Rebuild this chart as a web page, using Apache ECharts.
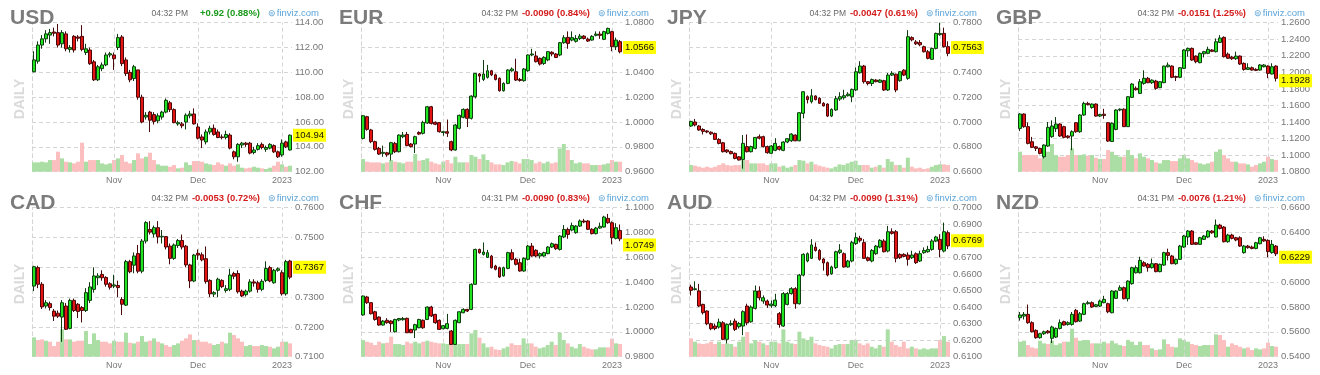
<!DOCTYPE html>
<html><head><meta charset="utf-8">
<script src="https://cdn.jsdelivr.net/npm/echarts@6/dist/echarts.min.js"></script>
<style>html,body{margin:0;padding:0;background:#fff}#c{width:1320px;height:375px}</style>
</head><body><div id="c"></div>
<script>
const dates = ['2022-10-04','2022-10-05','2022-10-06','2022-10-07','2022-10-10','2022-10-11','2022-10-12','2022-10-13','2022-10-14','2022-10-17','2022-10-18','2022-10-19','2022-10-20','2022-10-21','2022-10-24','2022-10-25','2022-10-26','2022-10-27','2022-10-28','2022-10-31',
'2022-11-01','2022-11-02','2022-11-03','2022-11-04','2022-11-07','2022-11-08','2022-11-09','2022-11-10','2022-11-11','2022-11-14','2022-11-15','2022-11-16','2022-11-17','2022-11-18','2022-11-21','2022-11-22','2022-11-23','2022-11-25','2022-11-28','2022-11-29','2022-11-30',
'2022-12-01','2022-12-02','2022-12-05','2022-12-06','2022-12-07','2022-12-08','2022-12-09','2022-12-12','2022-12-13','2022-12-14','2022-12-15','2022-12-16','2022-12-19','2022-12-20','2022-12-21','2022-12-22','2022-12-23','2022-12-27','2022-12-28','2022-12-29','2022-12-30',
'2023-01-03','2023-01-04','2023-01-05'];
const monthNames = {'01':'2023','11':'Nov','12':'Dec'};

// [open, close, low, high]
const usdOHLC = [
[110.05,111.0,110.0,111.7],[110.9,112.2,110.7,112.5],[112.2,112.7,111.9,113.0],[112.7,113.1,112.4,113.4],[113.0,113.2,112.3,113.5],
[113.25,113.15,112.9,113.6],[113.2,112.2,112.0,113.9],[112.3,113.2,112.0,113.4],[113.1,111.9,111.7,113.3],[111.85,112.0,111.6,112.2],
[112.9,111.8,111.6,113.0],[112.85,112.75,112.5,113.0],[112.9,111.85,111.7,113.8],[111.6,111.9,111.4,112.3],[111.8,110.7,110.6,112.0],
[110.85,109.4,109.3,111.0],[109.4,110.45,109.3,110.6],[110.3,110.6,110.1,110.8],[110.6,111.4,110.5,111.6],[111.4,111.5,111.2,111.65],
[111.4,111.1,110.2,111.6],[112.0,112.8,111.8,113.1],[112.85,110.7,110.5,113.0],[111.0,109.9,109.7,111.2],[110.0,109.4,109.2,110.2],
[109.5,110.45,109.3,110.6],[110.2,108.0,107.8,110.2],[108.0,106.0,105.9,108.2],[106.4,106.55,106.2,106.8],[106.8,106.15,105.2,106.9],
[106.6,106.05,105.8,106.8],[106.1,106.5,105.9,106.7],[106.4,106.8,106.2,106.9],[106.8,107.75,106.7,107.9],[107.55,107.0,106.8,107.7],
[107.0,105.95,105.9,107.1],[105.85,105.95,105.7,106.1],[105.85,105.7,105.5,106.0],[106.0,106.55,105.4,106.7],[106.5,106.65,106.3,106.9],
[106.65,105.85,105.8,107.1],[105.6,104.7,104.6,105.9],[104.8,104.55,103.9,105.0],[104.4,105.2,104.2,105.4],[105.2,105.5,105.0,105.7],
[105.5,105.0,104.9,105.8],[105.2,104.75,104.7,105.4],[104.8,104.75,104.6,105.0],[104.76,105.0,104.6,105.3],[104.95,103.9,103.8,105.1],
[103.6,103.2,103.0,103.7],[103.2,104.2,102.8,104.3],[104.15,104.3,103.9,104.4],[104.3,104.2,104.0,104.4],[104.3,103.5,103.4,104.4],
[103.55,103.75,103.4,104.0],[103.8,104.1,103.7,104.3],[104.2,103.95,103.8,104.35],[103.8,103.95,103.6,104.1],[103.9,104.2,103.8,104.3],
[104.1,103.6,103.5,104.2],[103.6,103.2,103.1,103.7],[103.35,104.3,103.2,104.6],[104.4,104.0,103.9,104.5],[103.75,104.94,103.7,105.0]];
const usdVol = [28,28,30,28,35,35,60,40,30,28,25,30,87,30,35,35,35,25,22,25,35,40,50,30,25,35,55,40,45,57,35,22,18,18,15,20,10,12,28,20,32,32,30,25,22,20,28,22,18,25,18,22,12,10,12,15,12,10,8,12,18,30,22,15,18];

const eurOHLC = [
[.9868,1.0051,.9860,1.0055],[1.0043,.9941,.9930,1.0050],[.9936,.9842,.9830,.9945],[.9842,.9780,.9770,.9850],[.9788,.9742,.9735,.9800],
[.9748,.9756,.9720,.9810],[.9752,.9736,.9720,.9760],[.9742,.9834,.9690,.9840],[.9828,.9761,.9750,.9840],[.9761,.9895,.9755,.9900],
[.9882,.9895,.9870,.9920],[.9900,.9810,.9805,.9920],[.9823,.9802,.9795,.9830],[.9823,.9882,.9750,.9890],[.9916,.9903,.9895,.9925],
[.9909,.9997,.9900,1.0010],[.9992,1.0123,.9985,1.0130],[1.0123,.9989,.9980,1.0130],[.9998,.9982,.9975,1.0005],[.9995,.9922,.9915,1.0000],
[.9915,.9922,.9890,.9930],[.9922,.9910,.9880,1.0020],[.9842,.9775,.9765,.9850],[.9775,.9976,.9770,.9985],[.9949,1.0054,.9940,1.0060],
[1.0038,1.0102,1.0030,1.0110],[1.0102,1.0030,.9960,1.0110],[1.0030,1.0209,1.0020,1.0215],[1.0204,1.0392,1.0190,1.0395],[1.0387,1.0370,1.0320,1.0395],
[1.0343,1.0387,1.0330,1.0500],[1.0360,1.0413,1.0350,1.0460],[1.0413,1.0380,1.0370,1.0420],[1.0380,1.0343,1.0335,1.0390],[1.0352,1.0252,1.0245,1.0360],
[1.0252,1.0311,1.0245,1.0320],[1.0311,1.0419,1.0305,1.0425],[1.0413,1.0427,1.0405,1.0440],[1.0405,1.0338,1.0330,1.0510],[1.0343,1.0335,1.0325,1.0355],
[1.0333,1.0427,1.0325,1.0435],[1.0413,1.0540,1.0405,1.0545],[1.0540,1.0548,1.0530,1.0590],[1.0532,1.0486,1.0480,1.0570],[1.0513,1.0467,1.0455,1.0520],
[1.0472,1.0521,1.0460,1.0530],[1.0500,1.0567,1.0490,1.0570],[1.0562,1.0548,1.0530,1.0570],[1.0548,1.0520,1.0515,1.0555],[1.0540,1.0639,1.0530,1.0645],
[1.0639,1.0679,1.0630,1.0700],[1.0682,1.0633,1.0590,1.0730],[1.0660,1.0680,1.0650,1.0730],[1.0650,1.0673,1.0640,1.0700],[1.0673,1.0692,1.0660,1.0710],
[1.0692,1.0673,1.0665,1.0700],[1.0668,1.0652,1.0645,1.0680],[1.0660,1.0690,1.0655,1.0700],[1.0698,1.0708,1.0690,1.0730],[1.0708,1.0698,1.0670,1.0730],
[1.0666,1.0728,1.0660,1.0735],[1.0714,1.0754,1.0705,1.0760],[1.0728,1.0607,1.0570,1.0735],[1.0607,1.0660,1.0580,1.0680],[1.0647,1.0566,1.0553,1.0660]];
const eurVol = [38,30,28,28,28,25,28,35,30,28,25,30,30,53,33,35,40,30,25,22,30,35,25,45,28,28,28,50,45,38,52,35,28,22,22,20,28,32,30,25,38,38,35,25,30,25,30,25,28,70,83,65,35,25,28,25,25,20,20,20,22,25,35,30,30];

const jpyOHLC = [
[.6968,.7005,.6960,.7010],[.7000,.6976,.6965,.7025],[.6968,.6936,.6930,.6975],[.6940,.6925,.6900,.6950],[.6928,.6920,.6910,.6935],
[.6918,.6905,.6895,.6925],[.6908,.6860,.6855,.6915],[.6860,.6828,.6820,.6870],[.6833,.6761,.6755,.6840],[.6775,.6760,.6750,.6780],
[.6762,.6745,.6740,.6770],[.6748,.6707,.6700,.6755],[.6720,.6694,.6690,.6725],[.6699,.6828,.6625,.6895],[.6802,.6761,.6755,.6900],
[.6761,.6802,.6755,.6810],[.6788,.6876,.6780,.6880],[.6882,.6870,.6860,.6900],[.6882,.6802,.6795,.6890],[.6802,.6753,.6745,.6810],
[.6748,.6807,.6745,.6815],[.6772,.6828,.6765,.6870],[.6802,.6780,.6770,.6810],[.6772,.6839,.6765,.6845],[.6839,.6866,.6830,.6870],
[.6849,.6903,.6840,.6910],[.6895,.6849,.6845,.6900],[.6849,.7075,.6845,.7080],[.7070,.7244,.7030,.7250],[.7204,.7180,.7150,.7215],
[.7164,.7212,.7150,.7265],[.7210,.7180,.7175,.7215],[.7191,.7151,.7145,.7200],[.7151,.7130,.7125,.7160],[.7145,.7048,.7040,.7150],
[.7048,.7102,.7040,.7110],[.7097,.7188,.7090,.7210],[.7185,.7204,.7170,.7240],[.7196,.7212,.7180,.7260],[.7212,.7225,.7205,.7240],
[.7204,.7263,.7160,.7270],[.7258,.7405,.7250,.7440],[.7397,.7451,.7390,.7490],[.7451,.7325,.7310,.7460],[.7325,.7310,.7295,.7330],
[.7310,.7342,.7290,.7350],[.7338,.7325,.7320,.7345],[.7320,.7338,.7315,.7345],[.7333,.7258,.7250,.7340],[.7258,.7378,.7250,.7395],
[.7378,.7392,.7370,.7410],[.7385,.7258,.7240,.7390],[.7333,.7405,.7325,.7410],[.7418,.7378,.7370,.7425],[.7352,.7687,.7340,.7740],
[.7680,.7662,.7650,.7690],[.7645,.7630,.7620,.7660],[.7640,.7622,.7610,.7660],[.7607,.7566,.7560,.7615],[.7566,.7513,.7505,.7580],
[.7505,.7593,.7500,.7600],[.7593,.7714,.7585,.7720],[.7704,.7714,.7695,.7800],[.7714,.7607,.7600,.7760],[.7607,.7553,.7530,.7650]];
const jpyVol = [20,18,15,12,15,12,15,20,25,20,18,20,20,35,35,25,25,25,25,20,25,25,15,18,12,15,20,35,33,25,30,22,18,15,12,10,15,22,20,25,30,33,20,20,20,12,15,20,12,38,30,20,20,12,42,15,10,12,8,10,15,20,22,22,20];

const gbpOHLC = [
[1.1323,1.1497,1.1290,1.1505],[1.1497,1.1344,1.1330,1.1505],[1.1344,1.1142,1.1130,1.1395],[1.1162,1.1094,1.1085,1.1220],[1.1100,1.1082,1.1050,1.1110],
[1.1082,1.1021,1.1010,1.1090],[1.0981,1.1122,1.0960,1.1130],[1.1110,1.1336,1.1100,1.1400],[1.1223,1.1352,1.1210,1.1420],[1.1320,1.1376,1.1280,1.1460],
[1.1376,1.1231,1.1220,1.1385],[1.1344,1.1215,1.1205,1.1355],[1.1231,1.1215,1.1200,1.1240],[1.1231,1.1283,1.1060,1.1300],[1.1392,1.1283,1.1270,1.1400],
[1.1283,1.1485,1.1270,1.1495],[1.1485,1.1625,1.1475,1.1645],[1.1625,1.1610,1.1600,1.1645],[1.1575,1.1617,1.1560,1.1625],[1.1617,1.1472,1.1465,1.1625],
[1.1472,1.1490,1.1460,1.1500],[1.1495,1.1480,1.1440,1.1560],[1.1392,1.1170,1.1160,1.1400],[1.1165,1.1385,1.1160,1.1395],[1.1311,1.1545,1.1300,1.1555],
[1.1545,1.1555,1.1530,1.1565],[1.1555,1.1344,1.1340,1.1565],[1.1344,1.1706,1.1340,1.1710],[1.1698,1.1859,1.1690,1.1870],[1.1808,1.1790,1.1780,1.1830],
[1.1746,1.1887,1.1740,1.1920],[1.1867,1.1928,1.1850,1.2025],[1.1928,1.1875,1.1870,1.1945],[1.1875,1.1906,1.1860,1.1915],[1.1895,1.1807,1.1790,1.1910],
[1.1815,1.1887,1.1810,1.1895],[1.1875,1.2076,1.1870,1.2080],[1.2068,1.2088,1.2060,1.2120],[1.2076,1.1940,1.1930,1.2085],[1.1950,1.1940,1.1895,1.1960],
[1.1940,1.2056,1.1930,1.2065],[1.2048,1.2270,1.2040,1.2280],[1.2260,1.2290,1.2190,1.2300],[1.2290,1.2149,1.2140,1.2300],[1.2197,1.2129,1.2110,1.2205],
[1.2117,1.2230,1.2110,1.2240],[1.2225,1.2250,1.2180,1.2260],[1.2230,1.2278,1.2220,1.2310],[1.2270,1.2254,1.2245,1.2280],[1.2250,1.2370,1.2240,1.2410],
[1.2362,1.2415,1.2355,1.2450],[1.2423,1.2189,1.2180,1.2435],[1.2220,1.2170,1.2165,1.2240],[1.2185,1.2165,1.2150,1.2200],[1.2165,1.2197,1.2150,1.2250],
[1.2197,1.2101,1.2090,1.2205],[1.2109,1.2036,1.2020,1.2120],[1.2036,1.2056,1.2030,1.2110],[1.2056,1.2028,1.2020,1.2070],[1.2036,1.2024,1.2015,1.2050],
[1.2028,1.2089,1.2020,1.2100],[1.2068,1.2089,1.2060,1.2100],[1.2076,1.1988,1.1930,1.2085],[1.1980,1.2068,1.1975,1.2110],[1.2076,1.1928,1.1890,1.2085]];
const gbpVol = [60,50,50,50,50,40,45,60,83,50,45,45,50,70,50,50,52,48,50,42,38,38,65,60,50,45,45,65,50,40,55,45,40,35,28,25,35,35,32,32,40,50,40,35,28,25,22,25,30,60,67,50,40,30,30,25,25,22,15,20,25,30,45,38,35];

const cadOHLC = [
[.7337,.7402,.7320,.7405],[.7399,.7343,.7330,.7405],[.7343,.7267,.7260,.7350],[.7270,.7281,.7262,.7290],[.7278,.7265,.7255,.7285],
[.7253,.7236,.7220,.7260],[.7246,.7236,.7230,.7255],[.7233,.7281,.7150,.7290],[.7270,.7192,.7190,.7280],[.7195,.7289,.7192,.7295],
[.7289,.7255,.7250,.7295],[.7276,.7252,.7230,.7280],[.7265,.7255,.7215,.7270],[.7255,.7315,.7250,.7330],[.7289,.7334,.7280,.7350],
[.7326,.7371,.7315,.7400],[.7365,.7371,.7340,.7380],[.7376,.7365,.7355,.7390],[.7366,.7343,.7335,.7370],[.7345,.7333,.7325,.7350],
[.7337,.7341,.7330,.7375],[.7339,.7332,.7300,.7355],[.7292,.7276,.7240,.7300],[.7273,.7419,.7270,.7425],[.7419,.7385,.7380,.7425],
[.7407,.7438,.7380,.7450],[.7446,.7387,.7380,.7475],[.7387,.7488,.7380,.7495],[.7488,.7550,.7480,.7555],[.7527,.7518,.7510,.7555],
[.7512,.7533,.7500,.7540],[.7533,.7502,.7480,.7555],[.7502,.7504,.7480,.7525],[.7503,.7468,.7460,.7505],[.7471,.7430,.7410,.7480],
[.7430,.7475,.7425,.7480],[.7473,.7490,.7465,.7495],[.7490,.7468,.7460,.7510],[.7471,.7408,.7400,.7475],[.7408,.7354,.7330,.7412],
[.7354,.7441,.7350,.7445],[.7447,.7441,.7425,.7460],[.7442,.7425,.7420,.7450],[.7429,.7352,.7345,.7470],[.7356,.7311,.7300,.7360],
[.7310,.7315,.7300,.7320],[.7323,.7360,.7300,.7365],[.7356,.7335,.7330,.7360],[.7322,.7328,.7315,.7340],[.7326,.7374,.7320,.7395],
[.7379,.7370,.7360,.7385],[.7379,.7318,.7312,.7390],[.7320,.7304,.7300,.7325],[.7308,.7320,.7302,.7325],[.7320,.7351,.7315,.7360],
[.7351,.7347,.7335,.7360],[.7348,.7326,.7315,.7355],[.7326,.7353,.7320,.7360],[.7356,.7396,.7350,.7420],[.7399,.7354,.7350,.7405],
[.7348,.7390,.7345,.7395],[.7390,.7395,.7385,.7400],[.7382,.7311,.7305,.7390],[.7311,.7419,.7305,.7425],[.7421,.7367,.7360,.7425]];
const cadVol = [58,50,52,48,45,32,45,82,52,52,45,48,48,77,38,70,50,45,45,40,48,45,45,72,42,40,45,62,45,48,55,45,40,35,30,35,40,48,55,67,50,50,45,45,40,35,38,45,40,72,65,55,45,32,35,32,32,35,32,30,25,30,45,45,40];

const chfOHLC = [
[1.0136,1.0289,1.0130,1.0292],[1.0281,1.0235,1.0225,1.0290],[1.0235,1.0146,1.0140,1.0240],[1.0162,1.0100,1.0090,1.0170],[1.0119,1.0055,1.0050,1.0125],
[1.0055,1.0087,1.0050,1.0095],[1.0093,1.0074,1.0065,1.0110],[1.0087,1.0066,1.0000,1.0095],[1.0001,1.0100,.9995,1.0105],[1.0095,1.0108,1.0085,1.0112],
[1.0098,1.0108,1.0090,1.0120],[1.0109,.9993,.9990,1.0115],[1.0020,.9993,.9990,1.0025],[1.0015,1.0058,.9950,1.0065],[1.0033,1.0100,1.0030,1.0105],
[1.0093,1.0033,1.0025,1.0100],[1.0100,1.0200,1.0095,1.0205],[1.0200,1.0128,1.0120,1.0210],[1.0141,1.0074,1.0065,1.0145],[1.0093,1.0020,1.0015,1.0100],
[1.0025,1.0050,1.0020,1.0055],[1.0028,1.0066,1.0020,1.0145],[1.0007,.9899,.9895,1.0015],[.9899,1.0093,.9895,1.0100],[1.0074,1.0162,1.0070,1.0165],
[1.0154,1.0181,1.0150,1.0190],[1.0181,1.0168,1.0160,1.0185],[1.0181,1.0383,1.0175,1.0390],[1.0383,1.0664,1.0380,1.0670],[1.0664,1.0637,1.0630,1.0670],
[1.0624,1.0643,1.0615,1.0720],[1.0600,1.0638,1.0595,1.0660],[1.0610,1.0517,1.0510,1.0620],[1.0530,1.0504,1.0495,1.0540],[1.0517,1.0442,1.0435,1.0525],
[1.0450,1.0517,1.0445,1.0525],[1.0511,1.0638,1.0505,1.0645],[1.0638,1.0584,1.0575,1.0665],[1.0584,1.0544,1.0535,1.0595],[1.0557,1.0490,1.0485,1.0590],
[1.0490,1.0592,1.0485,1.0600],[1.0584,1.0691,1.0575,1.0700],[1.0691,1.0611,1.0605,1.0715],[1.0657,1.0611,1.0600,1.0665],[1.0611,1.0630,1.0590,1.0640],
[1.0611,1.0638,1.0605,1.0645],[1.0630,1.0683,1.0625,1.0690],[1.0683,1.0710,1.0675,1.0720],[1.0705,1.0670,1.0660,1.0710],[1.0664,1.0772,1.0655,1.0780],
[1.0764,1.0825,1.0755,1.0860],[1.0825,1.0785,1.0750,1.0840],[1.0820,1.0856,1.0810,1.0880],[1.0799,1.0852,1.0790,1.0860],[1.0852,1.0893,1.0845,1.0905],
[1.0893,1.0885,1.0875,1.0910],[1.0893,1.0826,1.0820,1.0900],[1.0826,1.0791,1.0785,1.0835],[1.0791,1.0836,1.0785,1.0845],[1.0836,1.0850,1.0830,1.0880],
[1.0844,1.0925,1.0840,1.0935],[1.0914,1.0879,1.0870,1.0950],[1.0879,1.0758,1.0705,1.0890],[1.0753,1.0839,1.0745,1.0875],[1.0817,1.0749,1.0730,1.0865]];
const chfVol = [50,45,42,35,45,40,42,60,38,38,35,45,40,45,40,45,48,45,42,40,40,38,40,38,38,38,38,70,80,57,40,28,30,22,20,25,30,40,35,35,55,40,40,30,25,28,35,45,35,72,50,40,30,25,38,30,25,22,22,28,28,28,54,40,38];

const audOHLC = [
[.6521,.6501,.6470,.6535],[.6506,.6510,.6500,.6555],[.6497,.6406,.6400,.6540],[.6416,.6366,.6355,.6420],[.6376,.6299,.6290,.6380],
[.6299,.6269,.6260,.6305],[.6285,.6270,.6260,.6300],[.6279,.6309,.6270,.6330],[.6305,.6205,.6200,.6315],[.6205,.6295,.6180,.6300],
[.6293,.6301,.6285,.6320],[.6315,.6265,.6255,.6330],[.6281,.6301,.6270,.6310],[.6285,.6372,.6230,.6380],[.6406,.6305,.6290,.6420],
[.6311,.6400,.6305,.6410],[.6392,.6497,.6385,.6530],[.6497,.6456,.6440,.6525],[.6436,.6456,.6420,.6470],[.6436,.6412,.6395,.6445],
[.6408,.6418,.6395,.6440],[.6408,.6442,.6400,.6480],[.6360,.6295,.6275,.6370],[.6285,.6481,.6280,.6490],[.6416,.6481,.6410,.6490],
[.6481,.6511,.6475,.6520],[.6511,.6420,.6390,.6520],[.6420,.6593,.6415,.6600],[.6593,.6718,.6585,.6725],[.6678,.6722,.6670,.6730],
[.6694,.6775,.6690,.6810],[.6762,.6742,.6735,.6790],[.6742,.6688,.6680,.6750],[.6690,.6666,.6620,.6695],[.6668,.6593,.6585,.6675],
[.6601,.6642,.6595,.6650],[.6638,.6734,.6630,.6740],[.6730,.6744,.6720,.6780],[.6722,.6642,.6638,.6730],[.6642,.6678,.6638,.6685],
[.6678,.6789,.6670,.6800],[.6783,.6819,.6775,.6850],[.6815,.6803,.6790,.6830],[.6789,.6694,.6690,.6810],[.6698,.6682,.6675,.6705],
[.6678,.6742,.6670,.6750],[.6722,.6768,.6715,.6775],[.6762,.6803,.6755,.6810],[.6799,.6734,.6730,.6810],[.6738,.6855,.6730,.6890],
[.6855,.6845,.6838,.6875],[.6855,.6694,.6670,.6865],[.6718,.6698,.6690,.6725],[.6718,.6706,.6700,.6725],[.6714,.6688,.6650,.6730],
[.6698,.6714,.6690,.6740],[.6722,.6668,.6660,.6730],[.6678,.6722,.6672,.6740],[.6728,.6742,.6722,.6760],[.6734,.6748,.6728,.6770],
[.6748,.6799,.6740,.6810],[.6799,.6823,.6792,.6830],[.6809,.6748,.6700,.6840],[.6738,.6855,.6730,.6910],[.6849,.6769,.6750,.6862]];
const audVol = [55,45,40,38,40,45,38,45,38,40,38,30,45,60,74,40,50,45,40,35,45,45,40,82,45,40,38,75,55,50,60,40,35,32,30,25,35,38,38,38,50,50,40,35,40,30,25,35,30,82,45,35,30,45,25,30,25,22,25,22,25,25,50,62,45];

const nzdOHLC = [
[.5714,.5736,.5690,.5760],[.5727,.5741,.5700,.5760],[.5741,.5674,.5665,.5820],[.5674,.5601,.5595,.5685],[.5612,.5553,.5545,.5620],
[.5553,.5585,.5545,.5590],[.5585,.5601,.5575,.5610],[.5606,.5593,.5585,.5615],[.5548,.5639,.5510,.5650],[.5558,.5628,.5550,.5635],
[.5628,.5674,.5620,.5700],[.5682,.5655,.5650,.5690],[.5660,.5674,.5650,.5685],[.5660,.5741,.5650,.5760],[.5773,.5682,.5675,.5785],
[.5687,.5746,.5680,.5760],[.5741,.5827,.5735,.5835],[.5827,.5835,.5820,.5850],[.5835,.5800,.5795,.5845],[.5805,.5818,.5800,.5825],
[.5808,.5848,.5800,.5860],[.5835,.5862,.5830,.5890],[.5827,.5762,.5750,.5835],[.5754,.5929,.5750,.5935],[.5870,.5929,.5865,.5935],
[.5935,.5956,.5930,.5975],[.5956,.5867,.5862,.5965],[.5867,.6009,.5845,.6015],[.5988,.6117,.5980,.6125],[.6076,.6117,.6070,.6135],
[.6076,.6176,.6070,.6205],[.6157,.6130,.6125,.6170],[.6144,.6117,.6085,.6155],[.6117,.6149,.6110,.6190],[.6149,.6085,.6080,.6155],
[.6085,.6144,.6080,.6150],[.6138,.6238,.6132,.6245],[.6238,.6216,.6175,.6270],[.6211,.6149,.6145,.6220],[.6149,.6184,.6140,.6190],
[.6184,.6291,.6180,.6300],[.6283,.6372,.6276,.6380],[.6364,.6412,.6300,.6420],[.6412,.6305,.6300,.6420],[.6318,.6305,.6300,.6325],
[.6305,.6358,.6300,.6365],[.6345,.6372,.6340,.6380],[.6364,.6412,.6355,.6420],[.6412,.6398,.6390,.6420],[.6364,.6460,.6360,.6505],
[.6460,.6433,.6425,.6470],[.6444,.6326,.6320,.6452],[.6326,.6380,.6318,.6390],[.6380,.6353,.6345,.6390],[.6358,.6340,.6330,.6365],
[.6358,.6291,.6285,.6370],[.6238,.6291,.6230,.6300],[.6291,.6278,.6270,.6300],[.6283,.6272,.6265,.6295],[.6272,.6318,.6265,.6325],
[.6310,.6358,.6305,.6365],[.6345,.6332,.6325,.6370],[.6337,.6246,.6200,.6345],[.6238,.6305,.6230,.6340],[.6291,.6229,.6211,.6300]];
const nzdVol = [45,48,35,28,25,48,40,38,48,35,40,45,45,84,57,48,50,50,40,40,40,45,40,48,40,35,32,50,45,35,45,35,35,25,20,22,52,38,30,28,55,50,45,38,35,32,35,35,35,67,65,50,30,40,35,30,25,28,20,25,22,25,42,32,30];

const names = ['USD','EUR','JPY','GBP','CAD','CHF','AUD','NZD'];
const ohlcs = [usdOHLC,eurOHLC,jpyOHLC,gbpOHLC,cadOHLC,chfOHLC,audOHLC,nzdOHLC];
const vols = [usdVol,eurVol,jpyVol,gbpVol,cadVol,chfVol,audVol,nzdVol];
const yMin = [102,0.96,0.66,1.08,0.71,0.98,0.61,0.54];
const yMax = [114,1.08,0.78,1.26,0.76,1.10,0.70,0.66];
const yStep = [2,0.02,0.02,0.02,0.01,0.02,0.01,0.02];
const decimals = [2,4,4,4,4,4,4,4];
const lastPrice = [104.94,1.0566,0.7563,1.1928,0.7367,1.0749,0.6769,0.6229];
const times = ['04:32 PM','04:32 PM','04:32 PM','04:32 PM','04:32 PM','04:31 PM','04:32 PM','04:31 PM'];
const changes = ['+0.92 (0.88%)','-0.0090 (0.84%)','-0.0047 (0.61%)','-0.0151 (1.25%)','-0.0053 (0.72%)','-0.0090 (0.83%)','-0.0090 (1.31%)','-0.0076 (1.21%)'];

// layout
const colOrigin = [0,330,660,990];
const plotLeft = [32,361,689,1018];
const plotRight = [292,622,950,1278];
const rowOrigin = [0,185];
const plotTopOff = 22.7, plotH = 149;
const FONT = "Arial, 'Liberation Sans', sans-serif";
const VOLMAX = 447;

const isMonthStart = i => i > 0 && dates[i].slice(5,7) !== dates[i-1].slice(5,7);
const monthLines = dates.filter((d,i) => isMonthStart(i)).map(d => ({xAxis: d}));

const grids=[], xAxes=[], yAxes=[], series=[], graphics=[];
function txt(x,y,text,font,fill,align,rot){
  return {type:'text',x:x,y:y,rotation:rot||0,silent:true,z:100,
    style:{text:text,font:font,fill:fill,align:align||'left',verticalAlign:'middle'}};
}
names.forEach((nm,i)=>{
  const col=i%4,row=Math.floor(i/4);
  const L=plotLeft[col],R=plotRight[col],T=rowOrigin[row]+plotTopOff;
  grids.push({left:L,top:T,width:R-L,height:plotH});
  xAxes.push({gridIndex:i,type:'category',data:dates,boundaryGap:true,
    axisLine:{show:false},axisTick:{show:false},splitLine:{show:false},
    axisLabel:{interval:(idx)=>isMonthStart(idx),formatter:(v)=>monthNames[v.slice(5,7)]||'',
      color:'#777',fontSize:9,fontFamily:FONT,margin:4}});
  yAxes.push({gridIndex:i,type:'value',position:'right',min:yMin[i],max:yMax[i],interval:yStep[i],
    axisLine:{show:false},axisTick:{show:false},
    splitLine:{show:true,lineStyle:{color:'#d4d4d4',type:[4,3],width:1}},
    axisLabel:{formatter:(v)=>v.toFixed(decimals[i]),color:'#777',fontSize:9.5,fontFamily:FONT,margin:3}});
  yAxes.push({gridIndex:i,type:'value',position:'left',min:0,max:VOLMAX,
    axisLine:{show:true,lineStyle:{color:'#d4d4d4',type:[4,3],width:1}},
    axisTick:{show:false},axisLabel:{show:false},splitLine:{show:false}});
  const o=ohlcs[i];
  series.push({type:'bar',xAxisIndex:i,yAxisIndex:2*i+1,data:vols[i],barCategoryGap:'0%',silent:true,z:1,
    itemStyle:{color:(p)=> o[p.dataIndex][1]>=o[p.dataIndex][0] ? '#aadea4' : '#fcbfbf'},
    markLine:{silent:true,symbol:['none','none'],label:{show:false},
      lineStyle:{color:'#d4d4d4',type:[4,3],width:1},data:monthLines}});
  series.push({type:'candlestick',xAxisIndex:i,yAxisIndex:2*i,data:o,barWidth:3.4,z:5,
    itemStyle:{color:'#1fe41f',color0:'#e41414',borderColor:'#0f3d0f',borderColor0:'#4a0808',borderWidth:1},
    markLine:{silent:true,symbol:['none','none'],
      lineStyle:{color:'rgba(0,0,0,0)',width:0},
      data:[{yAxis:lastPrice[i]}],
      label:{show:true,position:'end',distance:1,formatter:lastPrice[i].toFixed(decimals[i]),
        backgroundColor:'#ffff00',color:'#111',fontSize:9.5,fontFamily:FONT,padding:[2,2,1,2]}}});
  const oy=rowOrigin[row];
  graphics.push(txt(L-22,oy+18,nm,'bold 21px '+FONT,'#7b7b7b','left'));
  graphics.push(txt(L-12,oy+99,'DAILY','bold 14px '+FONT,'#dadada','center',Math.PI/2));
  graphics.push(txt(R-104,oy+13.5,times[i],'8.5px '+FONT,'#666','right'));
  graphics.push(txt(R-32,oy+13.5,changes[i],'bold 9.5px '+FONT,changes[i][0]==='+'?'#1a9a1a':'#d41c1c','right'));
  graphics.push(txt(R+27,oy+13.5,'finviz.com','9.5px '+FONT,'#5ba4d8','right'));
  graphics.push(txt(R-20,oy+13.5,'⊜','9px '+FONT,'#5ba4d8','center'));
});

const chart = echarts.init(document.getElementById('c'),null,{renderer:'canvas'});
chart.setOption({animation:false,grid:grids,xAxis:xAxes,yAxis:yAxes,series:series,graphic:graphics});
</script></body></html>
